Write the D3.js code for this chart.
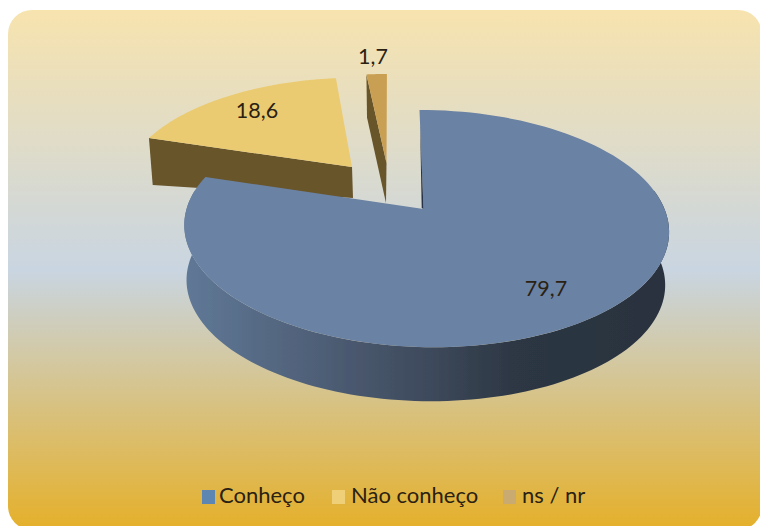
<!DOCTYPE html>
<html>
<meta charset="utf-8">
<script src="https://d3js.org/d3.v7.min.js"></script>
<style>
    html, body { margin: 0; padding: 0; background: #fff; }
    svg { display: block; }
    text { font-family: Lato, "Open Sans", sans-serif; fill: #2a2113; }
</style>

<body></body>
<script>
    const categories = ["Conheço", "Não conheço", "ns / nr"];
    const values = [79.7, 18.6, 1.7];
    const valueLabels = ["79,7", "18,6", "1,7"];

    const width = 760, height = 526;
    const topColors = ["#6b82a3", "#ebcb72", "#c9a052"];
    const legendColors = ["#5d86b3", "#efcf77", "#c9ab72"];

    // each slice sits on its own perspective plane: apex, x radius, shear, y radius, foreshortening
    const faces = [
        { top: { x: 425.5, y: 209, ax: 423.5, c: 239, s: 7, b: 115.4, k: 0.165 }, low: { x: 425, y: 263, c: 236, s: 5, b: 115.4, k: 0.165 } },
        { top: { x: 352, y: 167, c: 224, s: -5.2, b: 104, k: 0.165 }, low: { x: 353, y: 198, c: 221, s: -5.2, b: 47, k: 0.165 } },
        { top: { x: 386.5, y: 163, c: 224, s: -0.5, b: 103.7, k: 0.165 }, low: { x: 386, y: 203, c: 212, s: -0.5, b: 100, k: 0.165 } }
    ];
    const labelPos = [[546, 291], [257, 113], [373, 59]];

    const svg = d3.select("body").append("svg").attr("width", width).attr("height", height);
    const defs = svg.append("defs");

    const bg = defs.append("linearGradient").attr("id", "bg").attr("x1", 0).attr("x2", 0).attr("y1", 0).attr("y2", 1);
    [[0, "#f7e3ae"], [0.5, "#c9d5e1"], [1, "#e5b02a"]].forEach(d => {
        bg.append("stop").attr("offset", d[0]).attr("stop-color", d[1]);
    });
    const side = defs.append("linearGradient").attr("id", "side").attr("gradientUnits", "userSpaceOnUse")
        .attr("x1", 188).attr("x2", 666).attr("y1", 0).attr("y2", 0);
    [[0, "#5f7896"], [0.25, "#506179"], [0.5, "#3e4a5c"], [0.68, "#2d3744"], [1, "#29323f"]].forEach(d => {
        side.append("stop").attr("offset", d[0]).attr("stop-color", d[1]);
    });
    defs.append("filter").attr("id", "soft").append("feGaussianBlur").attr("stdDeviation", 0.5);

    svg.append("rect").attr("x", 8).attr("y", 10).attr("width", 754).attr("height", 520)
        .attr("rx", 24).attr("fill", "url(#bg)");

    const project = (p, a) => {
        const u = Math.sin(a), v = -Math.cos(a), w = 1 - p.k * v;
        return [p.x + (p.c * u + p.s * v) / w, p.y + p.b * v / w];
    };
    const line = d3.line();
    const rim = (p, a0, a1) => d3.range(0, 121).map(i => project(p, a0 + (a1 - a0) * i / 120));

    const slices = d3.pie().sort(null)(values);
    const chart = svg.append("g").attr("filter", "url(#soft)");

    [1, 2, 0].forEach(i => {
        const s = slices[i], f = faces[i];
        const apex = [f.top.ax === undefined ? f.top.x : f.top.ax, f.top.y];
        const g = chart.append("g");
        if (i === 0) {
            // outer wall, between the two silhouette points of the rim
            const a0 = Math.acos(f.top.k), a1 = 2 * Math.PI - a0;
            g.append("path").attr("fill", "url(#side)")
                .attr("d", line(rim(f.top, a0, a1).concat(rim(f.low, a0, a1).reverse())) + "Z");
        } else {
            // wall along the slice's first cut edge
            const wall = [project(f.top, s.startAngle), apex, [f.low.x, f.low.y], project(f.low, s.startAngle)];
            g.append("path").attr("fill", "#67542c").attr("d", line(wall) + "Z");
        }
        g.append("path").attr("fill", topColors[i])
            .attr("d", line([apex].concat(rim(f.top, s.startAngle, s.endAngle))) + "Z");
        if (i === 0) {
            // inner wall barely shows along the upright cut
            const p0 = project(f.top, s.startAngle);
            const from = d3.interpolate(p0, apex)(0.15);
            g.append("path").attr("fill", "#26324a")
                .attr("d", line([from, apex, [apex[0] - 1.8, apex[1] - 1]]) + "Z");
        }
    });

    svg.selectAll(".value").data(valueLabels).join("text")
        .attr("class", "value")
        .attr("x", (d, i) => labelPos[i][0])
        .attr("y", (d, i) => labelPos[i][1])
        .attr("text-anchor", "middle")
        .attr("dominant-baseline", "middle")
        .attr("font-size", 21.5)
        .text(d => d);

    const legendX = d3.scaleOrdinal().domain(categories).range([202, 332, 503]);
    const legendTextX = d3.scaleOrdinal().domain(categories).range([219, 351, 522]);
    const legend = svg.selectAll(".legend").data(categories).join("g").attr("class", "legend");
    legend.append("rect").attr("x", d => legendX(d)).attr("y", 490).attr("width", 13).attr("height", 14)
        .attr("fill", (d, i) => legendColors[i]);
    legend.append("text").attr("x", d => legendTextX(d)).attr("y", 497).attr("dominant-baseline", "middle")
        .attr("font-size", 22).text(d => d);
</script>

</html>
